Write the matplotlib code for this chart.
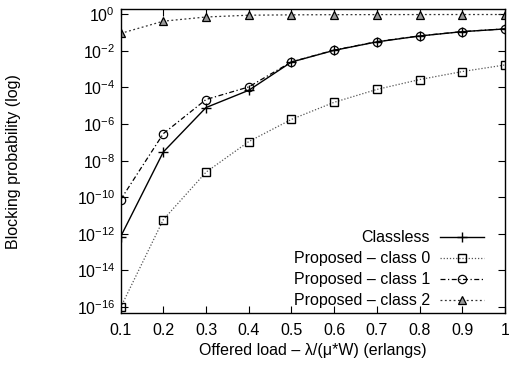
import matplotlib
matplotlib.use('Agg')
import matplotlib.pyplot as plt
from matplotlib.ticker import FixedLocator, NullLocator, FixedFormatter

plt.rcParams['font.family'] = ['Liberation Sans', 'DejaVu Sans']
plt.rcParams['mathtext.fontset'] = 'custom'
plt.rcParams['mathtext.rm'] = 'Liberation Sans'
plt.rcParams['mathtext.it'] = 'Liberation Sans'
plt.rcParams['font.size'] = 11.5

# offered load (erlangs)
load = [0.1, 0.2, 0.3, 0.4, 0.5, 0.6, 0.7, 0.8, 0.9, 1.0]

# blocking probabilities
classless = [7e-13, 3.0e-8, 8.0e-6, 7.0e-5, 2.45e-3, 1.07e-2, 3.1e-2, 6.5e-2, 1.12e-1, 1.58e-1]
class0 = [9.5e-17, 6.0e-12, 2.35e-9, 1.1e-7, 1.8e-6, 1.55e-5, 7.8e-5, 2.7e-4, 7.4e-4, 1.7e-3]
class1 = [7.4e-11, 3.0e-7, 2.2e-5, 1.07e-4, 2.5e-3, 1.1e-2, 3.2e-2, 6.6e-2, 1.13e-1, 1.6e-1]
class2 = [9.0e-2, 4.2e-1, 7.1e-1, 8.9e-1, 9.3e-1, 9.5e-1, 9.6e-1, 9.65e-1, 9.7e-1, 9.7e-1]

fig = plt.figure(figsize=(5.09, 3.67), dpi=100)
ax = fig.add_axes([0.237, 0.147, 0.755, 0.828])

ax.plot(load, classless, color='black', linestyle='-', linewidth=1.0,
        marker='+', markersize=7, markeredgewidth=1.0, label='Classless')
ax.plot(load, class0, color='#555555', linestyle=(0, (1, 1.5)), linewidth=0.9,
        marker='s', markersize=6, markerfacecolor='none', markeredgecolor='black',
        markeredgewidth=1.0, label='Proposed – class 0')
ax.plot(load, class1, color='black', linestyle=(0, (4, 2, 1, 2)), linewidth=0.9,
        marker='o', markersize=6, markerfacecolor='none', markeredgewidth=0.9,
        label='Proposed – class 1')
ax.plot(load, class2, color='#333333', linestyle=(0, (1.5, 2)), linewidth=0.9,
        marker='^', markersize=5.5, markerfacecolor='#999999', markeredgecolor='black',
        markeredgewidth=0.9, label='Proposed – class 2')

ax.set_yscale('log')
ax.set_xlim(0.1, 1.0)
ax.set_ylim(4.7e-17, 1.9)

ax.xaxis.set_major_locator(FixedLocator(load))
ax.xaxis.set_major_formatter(FixedFormatter(['0.1', '0.2', '0.3', '0.4', '0.5',
                                             '0.6', '0.7', '0.8', '0.9', '1']))
yt = [10.0 ** e for e in range(-16, 1, 2)]
ax.yaxis.set_major_locator(FixedLocator(yt))
ax.yaxis.set_major_formatter(FixedFormatter(['$10^{%d}$' % e for e in range(-16, 1, 2)]))
ax.yaxis.set_minor_locator(NullLocator())

ax.tick_params(which='both', direction='in', top=True, right=True, length=5, width=0.8)
ax.tick_params(axis='x', pad=7)
ax.tick_params(axis='y', pad=4)
for s in ax.spines.values():
    s.set_linewidth(1.0)

ax.set_xlabel('Offered load – λ/(μ*W) (erlangs)', labelpad=4)
ax.set_ylabel('Blocking probability (log)', labelpad=40)

ax.legend(loc='lower right', bbox_to_anchor=(0.955, 0.005), frameon=False,
          markerfirst=False, handlelength=2.8, labelspacing=0.38, borderaxespad=0,
          borderpad=0.2, fontsize=11.5, handletextpad=0.6)

fig.savefig('out.png', dpi=100)
